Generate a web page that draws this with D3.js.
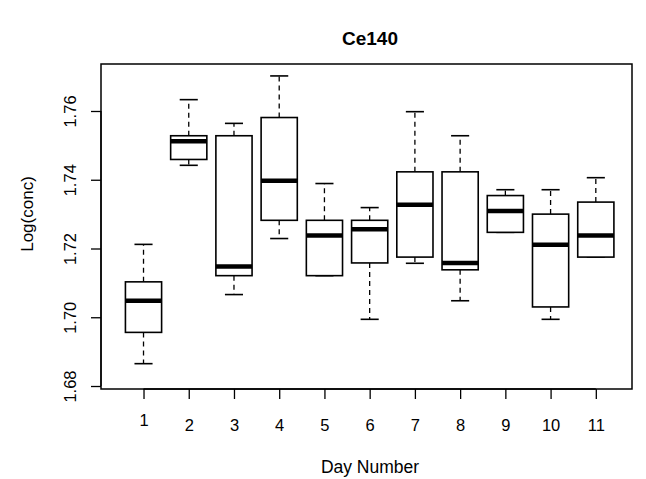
<!DOCTYPE html>
<html>
<head>
<meta charset="utf-8">
<script src="https://cdn.jsdelivr.net/npm/d3@7"></script>
<style>
  html, body { margin: 0; padding: 0; background: #fff; }
  svg { display: block; }
  text { font-family: "Liberation Sans", Arial, Helvetica, sans-serif; fill: #000; }
</style>
</head>
<body>
<script>
// ---- data ----
const days        = [1, 2, 3, 4, 5, 6, 7, 8, 9, 10, 11];
const whiskerLow  = [1.6865, 1.7442, 1.7066, 1.7229, 1.7121, 1.6994, 1.7157, 1.7048, 1.7247, 1.6994, 1.7175];
const q1          = [1.6956, 1.7459, 1.7121, 1.7282, 1.7121, 1.7158, 1.7175, 1.7138, 1.7247, 1.7030, 1.7175];
const medians     = [1.7048, 1.7512, 1.7148, 1.7397, 1.7238, 1.7256, 1.7327, 1.7158, 1.7309, 1.7211, 1.7238];
const q3          = [1.7103, 1.7528, 1.7528, 1.7581, 1.7282, 1.7282, 1.7423, 1.7423, 1.7354, 1.7300, 1.7335];
const whiskerHigh = [1.7212, 1.7633, 1.7564, 1.7702, 1.7389, 1.7319, 1.7598, 1.7528, 1.7371, 1.7371, 1.7406];
const yTicks      = [1.68, 1.70, 1.72, 1.74, 1.76];
const yTickLabels = ["1.68", "1.70", "1.72", "1.74", "1.76"];
const xTickLabels = ["1", "2", "3", "4", "5", "6", "7", "8", "9", "10", "11"];
const titleText   = "Ce140";
const xTitle      = "Day Number";
const yTitle      = "Log(conc)";

const W = 646, H = 479;
const plot = { left: 101, right: 632, top: 64, bottom: 389 };

const svg = d3.select("body").append("svg").attr("width", W).attr("height", H);

const x = d3.scaleLinear().domain([0.06, 11.8]).range([plot.left, plot.right]);
const y = d3.scaleLinear().domain([1.67913, 1.77367]).range([plot.bottom, plot.top]);

const boxW = (x(1.4) - x(0.6));   // boxwex 0.8
const stapleW = boxW / 2;

const data = days.map((d, i) => ({
  day: d, lo: whiskerLow[i], q1: q1[i], med: medians[i], q3: q3[i], hi: whiskerHigh[i]
}));

const g = svg.append("g");

// whiskers (dashed)
g.selectAll("line.wh-up").data(data).join("line")
  .attr("x1", d => x(d.day)).attr("x2", d => x(d.day))
  .attr("y1", d => y(d.q3)).attr("y2", d => y(d.hi))
  .attr("stroke", "#000").attr("stroke-width", 1.3).attr("stroke-dasharray", "5,4");
g.selectAll("line.wh-dn").data(data).join("line")
  .attr("x1", d => x(d.day)).attr("x2", d => x(d.day))
  .attr("y1", d => y(d.q1)).attr("y2", d => y(d.lo))
  .attr("stroke", "#000").attr("stroke-width", 1.3).attr("stroke-dasharray", "5,4");

// staples
g.selectAll("line.st-up").data(data).join("line")
  .attr("x1", d => x(d.day) - stapleW / 2).attr("x2", d => x(d.day) + stapleW / 2)
  .attr("y1", d => y(d.hi)).attr("y2", d => y(d.hi))
  .attr("stroke", "#000").attr("stroke-width", 1.6);
g.selectAll("line.st-dn").data(data).join("line")
  .attr("x1", d => x(d.day) - stapleW / 2).attr("x2", d => x(d.day) + stapleW / 2)
  .attr("y1", d => y(d.lo)).attr("y2", d => y(d.lo))
  .attr("stroke", "#000").attr("stroke-width", 1.6);

// boxes
g.selectAll("rect.box").data(data).join("rect")
  .attr("x", d => x(d.day) - boxW / 2).attr("width", boxW)
  .attr("y", d => y(d.q3)).attr("height", d => y(d.q1) - y(d.q3))
  .attr("fill", "#fff").attr("stroke", "#000").attr("stroke-width", 1.6);

// medians
g.selectAll("line.med").data(data).join("line")
  .attr("x1", d => x(d.day) - boxW / 2).attr("x2", d => x(d.day) + boxW / 2)
  .attr("y1", d => y(d.med)).attr("y2", d => y(d.med))
  .attr("stroke", "#000").attr("stroke-width", 4.5);

// plot frame
svg.append("rect")
  .attr("x", plot.left).attr("y", plot.top)
  .attr("width", plot.right - plot.left).attr("height", plot.bottom - plot.top)
  .attr("fill", "none").attr("stroke", "#000").attr("stroke-width", 1.5);

// y axis
const yAxis = svg.append("g")
  .attr("transform", `translate(${plot.left},0)`)
  .call(d3.axisLeft(y).tickValues(yTicks).tickFormat((d, i) => yTickLabels[i]).tickSize(10).tickSizeOuter(0));
yAxis.select(".domain").attr("d", `M0,${y(yTicks[0])}V${y(yTicks[yTicks.length - 1])}`).attr("stroke-width", 1.3);
yAxis.selectAll(".tick line").attr("stroke-width", 1.3);
yAxis.selectAll(".tick text")
  .attr("font-size", 16.5).attr("font-family", "Liberation Sans, Arial, sans-serif")
  .attr("transform", "rotate(-90)")
  .attr("x", 0).attr("y", -25).attr("dy", 0)
  .attr("text-anchor", "middle");

// x axis
const xAxis = svg.append("g")
  .attr("transform", `translate(0,${plot.bottom})`)
  .call(d3.axisBottom(x).tickValues(days).tickFormat((d, i) => xTickLabels[i]).tickSize(10).tickSizeOuter(0));
xAxis.select(".domain").attr("d", `M${x(days[0])},0H${x(days[days.length - 1])}`).attr("stroke-width", 1.3);
xAxis.selectAll(".tick line").attr("stroke-width", 1.3);
xAxis.selectAll(".tick text")
  .attr("font-size", 16.5).attr("font-family", "Liberation Sans, Arial, sans-serif")
  .attr("y", (d, i) => i === 0 ? 37 : 42).attr("dy", 0);

// titles
svg.append("text")
  .attr("x", 370).attr("y", 45)
  .attr("text-anchor", "middle").attr("font-weight", "bold").attr("font-size", 19)
  .text(titleText);
svg.append("text")
  .attr("x", 370).attr("y", 473)
  .attr("text-anchor", "middle").attr("font-size", 17.5)
  .text(xTitle);
svg.append("text")
  .attr("transform", `translate(33,214) rotate(-90)`)
  .attr("text-anchor", "middle").attr("font-size", 17)
  .text(yTitle);
</script>
</body>
</html>
